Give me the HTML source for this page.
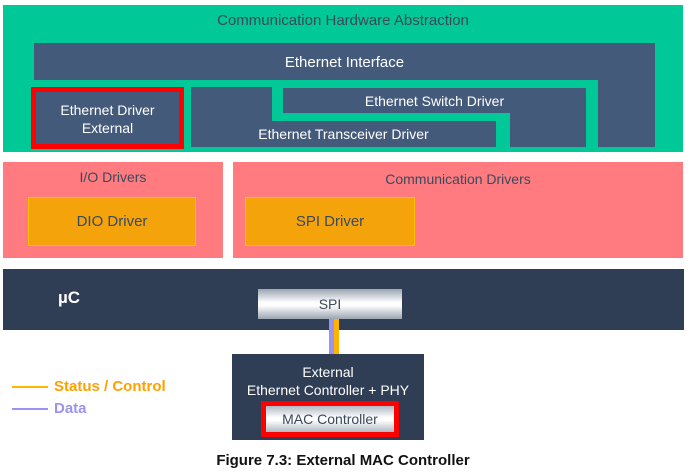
<!DOCTYPE html>
<html><head><style>
body{margin:0;width:700px;height:473px;background:#fff;position:relative;overflow:hidden;font-family:"Liberation Sans",sans-serif}
div{position:absolute;box-sizing:border-box}
.t{color:#fff;font-size:14px;text-align:center}
.n{background:#445a7a}
</style></head><body>
<div style="left:3px;top:5px;width:680px;height:147px;background:#00c896"></div>
<div style="left:3px;top:12px;width:680px;text-align:center;font-size:15px;color:#3a4a5c">Communication Hardware Abstraction</div>
<div class="n" style="left:34px;top:43px;width:621px;height:37px"></div>
<div class="n" style="left:598px;top:43px;width:57px;height:104px"></div>
<div class="t" style="left:34px;top:54px;width:621px;font-size:15px">Ethernet Interface</div>
<div class="n" style="left:191px;top:87px;width:81px;height:60px"></div>
<div class="n" style="left:191px;top:121px;width:305px;height:26px"></div>
<div class="t" style="left:191px;top:126px;width:305px">Ethernet Transceiver Driver</div>
<div class="n" style="left:283px;top:88px;width:303px;height:25px"></div>
<div class="n" style="left:510px;top:88px;width:76px;height:59px"></div>
<div class="t" style="left:283px;top:93px;width:303px">Ethernet Switch Driver</div>
<div class="n" style="left:31px;top:87px;width:153px;height:62px;border:5px solid #f00"></div>
<div class="t" style="left:31px;top:101px;width:153px;line-height:18px">Ethernet Driver<br>External</div>

<div style="left:3px;top:162px;width:220px;height:96px;background:#ff7b80"></div>
<div style="left:233px;top:162px;width:450px;height:96px;background:#ff7b80"></div>
<div style="left:3px;top:169px;width:220px;text-align:center;font-size:14px;color:#3a4a5c">I/O Drivers</div>
<div style="left:233px;top:171px;width:450px;text-align:center;font-size:14px;color:#3a4a5c">Communication Drivers</div>
<div style="left:28px;top:197px;width:168px;height:49px;background:#f5a30a;border:1px solid #ffc000;text-align:center;line-height:47px;font-size:15px;color:#3a4a5c">DIO Driver</div>
<div style="left:245px;top:197px;width:170px;height:49px;background:#f5a30a;border:1px solid #ffc000;text-align:center;line-height:47px;font-size:15px;color:#3a4a5c">SPI Driver</div>

<div style="left:3px;top:269px;width:681px;height:61px;background:#2f3d55"></div>
<div style="left:58px;top:288px;color:#fff;font-weight:bold;font-size:17px">µC</div>
<div style="left:258px;top:289px;width:144px;height:30px;background:linear-gradient(#9aa4b0,#fff 45%,#fff 55%,#9aa4b0);text-align:center;line-height:30px;font-size:14px;color:#3a4a5c">SPI</div>
<div style="left:329px;top:319px;width:5px;height:36px;background:#9a93f0"></div>
<div style="left:334px;top:319px;width:5px;height:36px;background:#ffb400"></div>
<div style="left:232px;top:354px;width:192px;height:86px;background:#2f3d55"></div>
<div class="t" style="left:232px;top:363px;width:192px;line-height:18px">External<br>Ethernet Controller + PHY</div>
<div style="left:261px;top:401px;width:138px;height:36px;border:5px solid #f00;background:linear-gradient(#b0b8c2,#fff 45%,#fff 55%,#b0b8c2);text-align:center;line-height:26px;font-size:14px;color:#3a4a5c">MAC Controller</div>

<div style="left:12px;top:386px;width:36px;height:2px;background:#ffb400"></div>
<div style="left:54px;top:378px;font-weight:bold;font-size:15px;color:#ffa000">Status / Control</div>
<div style="left:12px;top:408px;width:36px;height:2px;background:#9a93f0"></div>
<div style="left:54px;top:400px;font-weight:bold;font-size:15px;color:#9a93f0">Data</div>
<div style="left:0;top:452px;width:686px;text-align:center;font-weight:bold;font-size:15px;color:#111">Figure 7.3: External MAC Controller</div>
</body></html>
